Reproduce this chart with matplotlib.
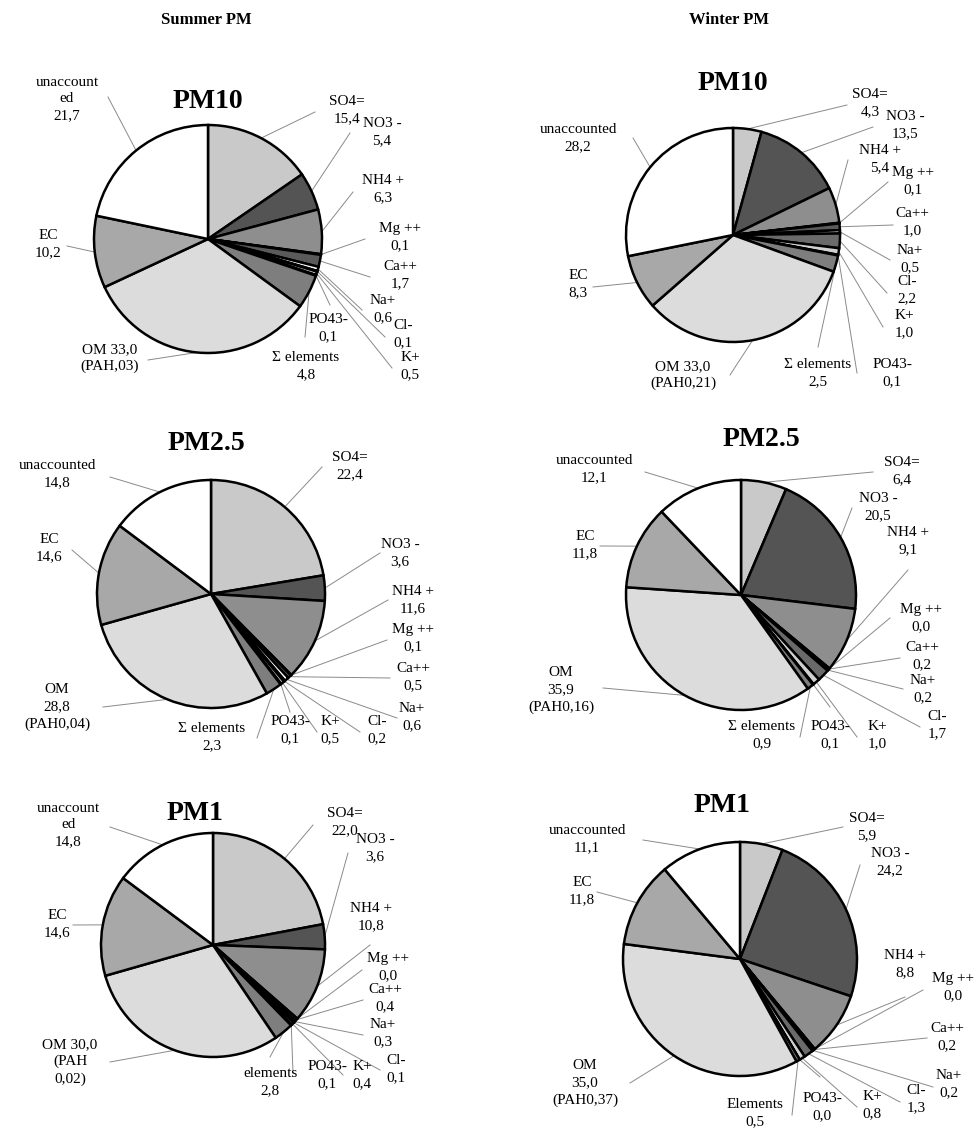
import matplotlib.pyplot as plt
import numpy as np

W, H = 977, 1132

# species in pie order (clockwise from 12 o'clock)
species = ["SO4=", "NO3 -", "NH4 +", "Mg ++", "Ca++", "Na+", "Cl-", "K+", "PO43-",
           "elements", "OM", "EC", "unaccounted"]

summer_pm10 = [15.4, 5.4, 6.3, 0.1, 1.7, 0.6, 0.1, 0.5, 0.1, 4.8, 33.0, 10.2, 21.7]
winter_pm10 = [4.3, 13.5, 5.4, 0.1, 1.0, 0.5, 2.2, 1.0, 0.1, 2.5, 33.0, 8.3, 28.2]
summer_pm25 = [22.4, 3.6, 11.6, 0.1, 0.5, 0.6, 0.2, 0.5, 0.1, 2.3, 28.8, 14.6, 14.8]
winter_pm25 = [6.4, 20.5, 9.1, 0.0, 0.2, 0.2, 1.7, 1.0, 0.1, 0.9, 35.9, 11.8, 12.1]
summer_pm1 = [22.0, 3.6, 10.8, 0.0, 0.4, 0.3, 0.1, 0.4, 0.1, 2.8, 30.0, 14.6, 14.8]
winter_pm1 = [5.9, 24.2, 8.8, 0.0, 0.2, 0.2, 1.3, 0.8, 0.0, 0.5, 35.0, 11.8, 11.1]

pah_text = ["(PAH,03)", "(PAH0,21)", "(PAH0,04)", "(PAH0,16)", "(PAH\n0,02)", "(PAH0,37)"]
elem_names = ["Σ elements", "Σ elements", "Σ elements", "Σ elements", "elements", "Elements"]
titles = ["PM10", "PM10", "PM2.5", "PM2.5", "PM1", "PM1"]

colors = ["#c9c9c9", "#545454", "#8e8e8e", "#1a1a1a", "#5a5a5a", "#ffffff", "#6a6a6a",
          "#d0d0d0", "#303030", "#7e7e7e", "#dcdcdc", "#a8a8a8", "#ffffff"]

# layout: pie centre/radius, title position (pixels, top origin)
pies = [
    dict(vals=summer_pm10, c=(208, 239), r=114, title=(208, 102), om="OM {v}\n{p}",
         un="unaccount\ned\n{v}"),
    dict(vals=winter_pm10, c=(733, 235), r=107, title=(733, 83), om="OM {v}\n{p}",
         un="unaccounted\n{v}"),
    dict(vals=summer_pm25, c=(211, 594), r=114, title=(206, 443), om="OM\n{v}\n{p}",
         un="unaccounted\n{v}"),
    dict(vals=winter_pm25, c=(741, 595), r=115, title=(761, 440), om="OM\n{v}\n{p}",
         un="unaccounted\n{v}"),
    dict(vals=summer_pm1, c=(213, 945), r=112, title=(195, 813), om="OM {v}\n{p}",
         un="unaccount\ned\n{v}"),
    dict(vals=winter_pm1, c=(740, 959), r=117, title=(722, 805), om="OM\n{v}\n{p}",
         un="unaccounted\n{v}"),
]

# label text centre and leader-line end, per species (pixels, top origin)
label_pos = [
    [(347, 110, 315, 112), (382, 132, 350, 133), (383, 189, 353, 192), (400, 237, 365, 239),
     (400, 275, 370, 277), (383, 309, 362, 310), (403, 334, 385, 337), (410, 366, 392, 368),
     (328, 328, 330, 305), (306, 366, 305, 337), (110, 358, 148, 360), (48, 244, 67, 246),
     (67, 99, 108, 97)],
    [(870, 103, 847, 105), (905, 125, 873, 127), (880, 159, 848, 160), (913, 181, 888, 182),
     (912, 222, 893, 225), (910, 259, 890, 260), (907, 290, 887, 293), (904, 324, 883, 327),
     (892, 373, 857, 373), (818, 373, 818, 347), (683, 375, 730, 375), (578, 284, 593, 287),
     (578, 138, 633, 138)],
    [(350, 466, 322, 467), (400, 553, 380, 553), (413, 600, 388, 600), (413, 638, 387, 640),
     (413, 677, 390, 678), (412, 717, 397, 718), (377, 730, 360, 732), (330, 730, 317, 732),
     (290, 730, 290, 712), (212, 737, 257, 738), (57, 707, 103, 707), (49, 548, 72, 550),
     (57, 474, 110, 477)],
    [(902, 471, 873, 472), (878, 507, 852, 508), (908, 541, 908, 570), (921, 618, 890, 618),
     (922, 656, 900, 658), (923, 689, 903, 689), (937, 725, 920, 727), (877, 735, 857, 737),
     (830, 735, 830, 707), (762, 735, 800, 737), (561, 690, 603, 688), (585, 545, 600, 546),
     (594, 469, 645, 472)],
    [(345, 822, 313, 825), (375, 848, 348, 853), (371, 917, 370, 945), (388, 967, 362, 970),
     (385, 998, 363, 1000), (383, 1033, 363, 1035), (396, 1069, 380, 1070), (362, 1075, 343, 1075),
     (327, 1075, 293, 1073), (270, 1082, 270, 1057), (70, 1062, 110, 1062), (57, 924, 73, 925),
     (68, 825, 110, 827)],
    [(867, 827, 843, 827), (890, 862, 860, 865), (905, 964, 905, 997), (953, 987, 923, 990),
     (947, 1037, 927, 1038), (949, 1084, 933, 1087), (916, 1099, 900, 1102), (872, 1105, 857, 1107),
     (822, 1107, 820, 1077), (755, 1113, 792, 1115), (585, 1083, 630, 1083), (582, 891, 597, 892),
     (587, 839, 643, 840)],
]

plt.rcParams["font.family"] = ["Liberation Serif", "DejaVu Serif"]

fig = plt.figure(figsize=(W / 100, H / 100), dpi=100)
ax = fig.add_axes([0, 0, 1, 1])


def fmt(v):
    return f"{v:.1f}".replace(".", ",")


for k, p in enumerate(pies):
    cx, cy = p["c"]
    wedges, _ = ax.pie(p["vals"], colors=colors, startangle=90, counterclock=False,
                       center=(cx, H - cy), radius=p["r"],
                       wedgeprops=dict(edgecolor="black", linewidth=1.8))
    tx, ty = p["title"]
    ax.text(tx, H - ty, titles[k], ha="center", va="center", fontsize=20, fontweight="bold")

    for i, (w, name, v) in enumerate(zip(wedges, species, p["vals"])):
        if name == "OM":
            txt = p["om"].format(v=fmt(v), p=pah_text[k])
        elif name == "unaccounted":
            txt = p["un"].format(v=fmt(v))
        elif name == "elements":
            txt = f"{elem_names[k]}\n{fmt(v)}"
        else:
            txt = f"{name}\n{fmt(v)}"
        lx, ly, ex, ey = label_pos[k][i]
        # leader line from the middle of the wedge's outer arc to the label
        ang = np.deg2rad((w.theta1 + w.theta2) / 2)
        sx = w.center[0] + w.r * np.cos(ang)
        sy = w.center[1] + w.r * np.sin(ang)
        ax.plot([sx, ex], [sy, H - ey], color="#8a8a8a", lw=0.7, zorder=0.5)
        ax.text(lx, H - ly, txt, ha="center", va="center", fontsize=11,
                linespacing=1.4, multialignment="center")

ax.text(206, H - 20, "Summer PM", ha="center", va="center", fontsize=12, fontweight="bold")
ax.text(729, H - 20, "Winter PM", ha="center", va="center", fontsize=12, fontweight="bold")

ax.set_xlim(0, W)
ax.set_ylim(0, H)
ax.set_aspect("equal")
ax.axis("off")

fig.savefig("out.png", dpi=100)
